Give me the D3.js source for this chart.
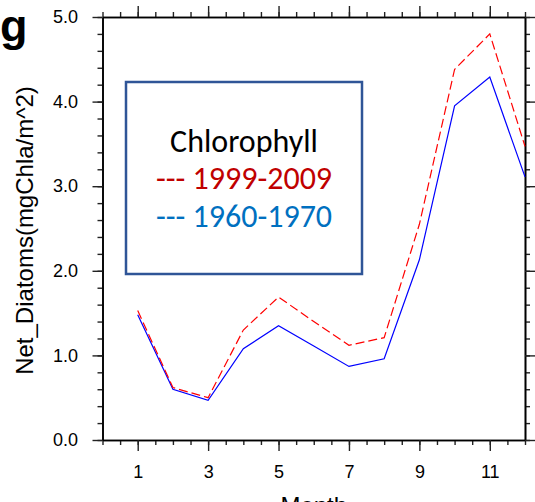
<!DOCTYPE html>
<html>
<head>
<meta charset="utf-8">
<script src="https://cdn.jsdelivr.net/npm/d3@7"></script>
<style>
  html, body { margin: 0; padding: 0; background: #fff; }
  svg { display: block; }
</style>
</head>
<body>
<svg id="chart" width="535" height="502"></svg>
<script>
// Monthly net diatom chlorophyll, two decades
const months = [1, 2, 3, 4, 5, 6, 7, 8, 9, 10, 11, 12];
const recent = [1.53, 0.62, 0.50, 1.30, 1.69, 1.40, 1.12, 1.21, 2.55, 4.38, 4.80, 3.47]; // 1999-2009
const past   = [1.48, 0.60, 0.47, 1.08, 1.35, 1.11, 0.87, 0.96, 2.13, 3.95, 4.29, 3.11]; // 1960-1970

const xMajor = [1, 3, 5, 7, 9, 11];
const xMinor = d3.range(0, 12.01, 0.5);
const yMajor = [0, 1, 2, 3, 4, 5];
const yMinor = d3.range(0, 5.001, 0.2);

const legendTitle = "Chlorophyll";
const legendItems = ["--- 1999-2009", "--- 1960-1970"];

const svg = d3.select("#chart");
const L = 102.5, R = 525, T = 17, B = 440;

const x = d3.scaleLinear().domain([0, 12]).range([L, R]);
const y = d3.scaleLinear().domain([0, 5]).range([B, T]);

const axisFont = "'Liberation Sans', Arial, sans-serif";

function styleAxis(g) {
  g.selectAll("path.domain").attr("stroke", "#000").attr("stroke-width", 1.6);
  g.selectAll(".tick line").attr("stroke", "#222").attr("stroke-width", 1.4);
  g.selectAll(".tick text").attr("fill", "#000").attr("font-family", axisFont).attr("font-size", 18);
}

// minor ticks on all four sides
svg.append("g").attr("transform", `translate(0,${B})`)
  .call(d3.axisBottom(x).tickValues(xMinor).tickSize(5).tickSizeOuter(0).tickFormat(""))
  .call(styleAxis);
svg.append("g").attr("transform", `translate(0,${T})`)
  .call(d3.axisTop(x).tickValues(xMinor).tickSize(5).tickSizeOuter(0).tickFormat(""))
  .call(styleAxis);
svg.append("g").attr("transform", `translate(${L},0)`)
  .call(d3.axisLeft(y).tickValues(yMinor).tickSize(5).tickSizeOuter(0).tickFormat(""))
  .call(styleAxis);
svg.append("g").attr("transform", `translate(${R},0)`)
  .call(d3.axisRight(y).tickValues(yMinor).tickSize(5).tickSizeOuter(0).tickFormat(""))
  .call(styleAxis);

// major ticks and labels
svg.append("g").attr("transform", `translate(0,${B})`)
  .call(d3.axisBottom(x).tickValues(xMajor).tickSize(11).tickSizeOuter(0).tickPadding(14).tickFormat(d3.format("d")))
  .call(styleAxis);
svg.append("g").attr("transform", `translate(0,${T})`)
  .call(d3.axisTop(x).tickValues(xMajor).tickSize(11).tickSizeOuter(0).tickFormat(""))
  .call(styleAxis);
svg.append("g").attr("transform", `translate(${L},0)`)
  .call(d3.axisLeft(y).tickValues(yMajor).tickSize(10).tickSizeOuter(0).tickPadding(14.5).tickFormat(d3.format(".1f")))
  .call(styleAxis);
svg.append("g").attr("transform", `translate(${R},0)`)
  .call(d3.axisRight(y).tickValues(yMajor).tickSize(10).tickSizeOuter(0).tickFormat(""))
  .call(styleAxis);

// series lines
const line = d3.line().x((d, i) => x(months[i])).y(d => y(d));

svg.append("path").datum(past)
  .attr("fill", "none").attr("stroke", "#0000ff").attr("stroke-width", 1.2)
  .attr("d", line);

svg.append("path").datum(recent)
  .attr("fill", "none").attr("stroke", "#ff0000").attr("stroke-width", 1.2)
  .attr("stroke-dasharray", "9,4")
  .attr("d", line);

// axis titles
svg.append("text")
  .attr("transform", `translate(33,${(T + B) / 2 + 2}) rotate(-90)`)
  .attr("text-anchor", "middle")
  .attr("font-family", axisFont).attr("font-size", 24).attr("fill", "#000")
  .text("Net_Diatoms(mgChla/m^2)");

svg.append("text")
  .attr("x", (L + R) / 2).attr("y", 514)
  .attr("text-anchor", "middle")
  .attr("font-family", axisFont).attr("font-size", 24).attr("fill", "#000")
  .text("Month");

// panel letter
svg.append("text")
  .attr("x", 0).attr("y", 41)
  .attr("font-family", axisFont).attr("font-size", 45).attr("font-weight", "bold").attr("fill", "#000")
  .text("g");

// legend box
const legendFont = "Carlito, Lato, 'Open Sans', sans-serif";
const lg = svg.append("g");
lg.append("rect")
  .attr("x", 126).attr("y", 82).attr("width", 236).attr("height", 192)
  .attr("fill", "#fff").attr("stroke", "#2f5597").attr("stroke-width", 2.5);
lg.append("text")
  .attr("x", 244).attr("y", 152).attr("text-anchor", "middle")
  .attr("font-family", legendFont).attr("font-size", 32).attr("fill", "#000")
  .text(legendTitle);
const legendColors = ["#c00000", "#0070c0"];
const legendBaselines = [189, 227];
legendItems.forEach((t, i) => {
  lg.append("text")
    .attr("x", 244).attr("y", legendBaselines[i]).attr("text-anchor", "middle")
    .attr("font-family", legendFont).attr("font-size", 32).attr("fill", legendColors[i])
    .text(t);
});
</script>
</body>
</html>
